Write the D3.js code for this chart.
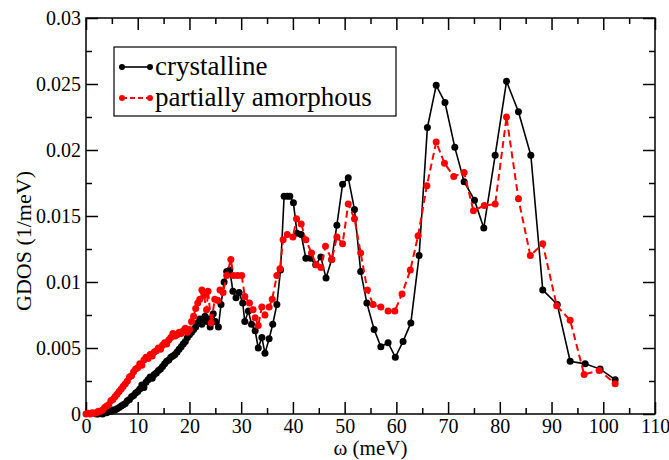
<!DOCTYPE html>
<html>
<head>
<meta charset="utf-8">
<script src="https://cdn.jsdelivr.net/npm/d3@7"></script>
<style>
  body { margin: 0; background: #fff; }
  svg { display: block; }
  svg text { font-family: "Liberation Serif", Tinos, "Times New Roman", Times, "DejaVu Serif", serif !important; fill: #000; }
</style>
</head>
<body>
<svg id="chart" width="669" height="460"></svg>
<script>
// ---- data ----
const seriesNames = ["crystalline", "partially amorphous"];
const xTickValues = [0, 10, 20, 30, 40, 50, 60, 70, 80, 90, 100, 110];
const xTickLabels = ["0", "10", "20", "30", "40", "50", "60", "70", "80", "90", "100", "110"];
const yTickValues = [0, 0.005, 0.01, 0.015, 0.02, 0.025, 0.03];
const yTickLabels = ["0", "0.005", "0.01", "0.015", "0.02", "0.025", "0.03"];
const xTitle = "ω (meV)";
const yTitle = "GDOS (1/meV)";

const crystallineOmega = [2.0,2.4,2.8,3.2,3.6,4.0,4.4,4.8,5.2,5.6,6.0,6.4,6.8,7.2,7.6,8.0,8.4,8.8,9.2,9.6,10.0,10.4,10.8,11.2,11.6,12.0,12.4,12.8,13.2,13.6,14.0,14.4,14.8,15.2,15.6,16.0,16.4,16.8,17.2,17.6,18.0,18.4,18.8,19.2,19.6,20.0,20.4,20.8,21.2,21.6,22.0,22.4,23.0,23.4,23.7,24.0,24.6,25.0,25.6,26.1,26.7,27.2,27.8,28.4,29.0,29.6,30.3,30.7,31.4,32.0,32.7,33.3,34.0,34.6,35.4,36.1,36.9,37.6,38.3,38.9,39.4,40.1,40.8,41.6,42.5,43.4,44.4,45.4,46.4,47.5,48.5,49.6,50.7,51.9,53.1,54.3,55.7,57.0,58.4,59.8,61.3,62.8,64.4,66.0,67.7,69.4,71.3,73.1,75.1,76.9,79.1,81.3,83.6,86.0,88.3,91.1,93.6,96.5,99.4,102.3];
const crystallineGdos = [0,0,0.00005,0,0.0001,0.0001,0.0002,0.0002,0.0003,0.0003,0.0004,0.0005,0.0006,0.0007,0.0008,0.0010,0.0011,0.0013,0.0014,0.0016,0.0017,0.0019,0.0022,0.0020,0.0024,0.0026,0.0028,0.0027,0.0030,0.0031,0.0033,0.0034,0.0036,0.0038,0.0040,0.0041,0.0043,0.0044,0.0045,0.0047,0.0049,0.0051,0.0053,0.0055,0.0058,0.0060,0.0062,0.0064,0.0066,0.0069,0.0072,0.0068,0.0074,0.0070,0.0072,0.0066,0.0076,0.0070,0.0066,0.0083,0.0100,0.0108,0.0109,0.0093,0.0088,0.0092,0.0084,0.0070,0.0078,0.0068,0.0063,0.0050,0.0058,0.0046,0.0057,0.0068,0.0083,0.0109,0.0165,0.0165,0.0165,0.0160,0.0137,0.0136,0.0118,0.0118,0.0113,0.0119,0.0103,0.0117,0.0143,0.0174,0.0179,0.0155,0.0108,0.0084,0.0064,0.0051,0.0054,0.0043,0.0055,0.0069,0.0120,0.0217,0.0249,0.0236,0.0202,0.0176,0.0162,0.0141,0.0196,0.0252,0.0229,0.0196,0.0094,0.0083,0.0040,0.0038,0.0034,0.0026];

const amorphousOmega = [0.0,0.4,0.8,1.2,1.6,2.0,2.4,2.8,3.2,3.6,4.0,4.4,4.8,5.2,5.6,6.0,6.4,6.8,7.2,7.6,8.0,8.4,8.8,9.2,9.6,10.0,10.4,10.8,11.2,11.6,12.0,12.4,12.8,13.2,13.6,14.0,14.4,14.8,15.2,15.6,16.0,16.4,16.8,17.2,17.6,18.0,18.4,18.8,19.2,19.6,20.0,20.4,20.8,21.2,21.6,22.0,22.4,22.8,23.3,23.6,24.2,24.9,25.5,25.9,26.5,27.2,28.0,28.5,29.3,30.1,30.7,31.6,32.3,32.7,33.3,34.0,34.6,35.4,36.0,36.9,37.5,38.1,38.9,40.0,40.7,41.6,42.5,43.6,44.5,45.4,46.3,47.5,48.5,49.6,50.7,51.9,53.1,54.4,55.5,57.0,58.4,59.7,61.1,62.7,64.2,65.9,67.7,69.3,71.1,73.1,74.9,77.0,79.1,81.3,83.6,85.9,88.3,91.0,93.6,96.3,99.2,102.3];
const amorphousGdos = [0,0.00005,0,0.0001,0.00005,0.0001,0.0002,0.0002,0.0003,0.0005,0.0006,0.0007,0.0010,0.0011,0.0013,0.0015,0.0017,0.0019,0.0021,0.0023,0.0025,0.0028,0.0029,0.0032,0.0034,0.0035,0.0038,0.0037,0.0041,0.0043,0.0042,0.0045,0.0044,0.0047,0.0048,0.0050,0.0049,0.0052,0.0054,0.0053,0.0056,0.0058,0.0061,0.0059,0.0060,0.0062,0.0061,0.0063,0.0065,0.0062,0.0064,0.0070,0.0074,0.0080,0.0084,0.0087,0.0094,0.0090,0.0079,0.0093,0.0069,0.0087,0.0086,0.0094,0.0092,0.0105,0.0117,0.0105,0.0105,0.0105,0.0089,0.0084,0.0079,0.0073,0.0067,0.0081,0.0075,0.0081,0.0087,0.0105,0.0110,0.0132,0.0136,0.0134,0.0148,0.0144,0.0132,0.0122,0.0113,0.0111,0.0127,0.0117,0.0134,0.0129,0.0159,0.0148,0.0122,0.0094,0.0083,0.0081,0.0078,0.0078,0.0091,0.0109,0.0135,0.0173,0.0206,0.0190,0.0180,0.0183,0.0154,0.0158,0.0159,0.0225,0.0163,0.0120,0.0129,0.0082,0.0071,0.0030,0.0033,0.0023];

// ---- layout ----
const FONT = '"Liberation Serif", Tinos, "Times New Roman", Times, "DejaVu Serif", serif';
const svg = d3.select("#chart");
const L = 86, R = 655, T = 18, B = 414;
const x = d3.scaleLinear().domain([0, 110]).range([L, R]);
const y = d3.scaleLinear().domain([0, 0.03]).range([B, T]);

const xMinor = d3.range(5, 110, 10);
const yMinor = [0.0025, 0.0075, 0.0125, 0.0175, 0.0225, 0.0275];

const fmtX = d => xTickLabels[xTickValues.indexOf(d)];
const fmtY = d => yTickLabels[yTickValues.indexOf(d)];

function styleAxis(g) {
  g.attr("font-family", FONT).attr("font-size", 20);
  g.select(".domain").remove();
  g.selectAll(".tick line").attr("stroke", "#000").attr("stroke-width", 1.5);
  g.selectAll("text").attr("font-family", FONT).attr("font-size", 20).attr("fill", "#000");
}

// bottom
svg.append("g").attr("transform", `translate(0,${B})`)
  .call(d3.axisBottom(x).tickValues(xTickValues).tickSize(-12).tickPadding(5).tickFormat(fmtX)).call(styleAxis);
svg.append("g").attr("transform", `translate(0,${B})`)
  .call(d3.axisBottom(x).tickValues(xMinor).tickSize(-6).tickFormat("")).call(styleAxis);
// top
svg.append("g").attr("transform", `translate(0,${T})`)
  .call(d3.axisTop(x).tickValues(xTickValues).tickSize(-12).tickFormat("")).call(styleAxis);
svg.append("g").attr("transform", `translate(0,${T})`)
  .call(d3.axisTop(x).tickValues(xMinor).tickSize(-6).tickFormat("")).call(styleAxis);
// left
svg.append("g").attr("transform", `translate(${L},0)`)
  .call(d3.axisLeft(y).tickValues(yTickValues).tickSize(-12).tickPadding(5).tickFormat(fmtY)).call(styleAxis);
svg.append("g").attr("transform", `translate(${L},0)`)
  .call(d3.axisLeft(y).tickValues(yMinor).tickSize(-6).tickFormat("")).call(styleAxis);
// right
svg.append("g").attr("transform", `translate(${R},0)`)
  .call(d3.axisRight(y).tickValues(yTickValues).tickSize(-12).tickFormat("")).call(styleAxis);
svg.append("g").attr("transform", `translate(${R},0)`)
  .call(d3.axisRight(y).tickValues(yMinor).tickSize(-6).tickFormat("")).call(styleAxis);

// frame
svg.append("rect").attr("x", L).attr("y", T).attr("width", R - L).attr("height", B - T)
  .attr("fill", "none").attr("stroke", "#000").attr("stroke-width", 1.5);

// series
const crystalline = crystallineOmega.map((w, i) => [w, crystallineGdos[i]]);
const amorphous = amorphousOmega.map((w, i) => [w, amorphousGdos[i]]);
const line = d3.line().x(d => x(d[0])).y(d => y(d[1]));

const series = [
  { data: crystalline, color: "#000000", dash: null, width: 1.6 },
  { data: amorphous, color: "#ff0000", dash: "7,4", width: 2 }
];
series.forEach(s => {
  const g = svg.append("g");
  g.append("path").datum(s.data).attr("d", line).attr("fill", "none")
    .attr("stroke", s.color).attr("stroke-width", s.width)
    .attr("stroke-dasharray", s.dash);
  g.selectAll("circle").data(s.data).join("circle")
    .attr("cx", d => x(d[0])).attr("cy", d => y(d[1])).attr("r", 3.5)
    .attr("fill", s.color);
});

// axis titles
svg.append("text").attr("x", (L + R) / 2).attr("y", 455).attr("text-anchor", "middle")
  .attr("font-family", FONT).attr("font-size", 21).text(xTitle);
svg.append("text").attr("transform", "translate(31,241) rotate(-90)").attr("text-anchor", "middle")
  .attr("font-family", FONT).attr("font-size", 22).text(yTitle);

// legend
const lg = svg.append("g");
lg.append("rect").attr("x", 114).attr("y", 47).attr("width", 282).attr("height", 69)
  .attr("fill", "#fff").attr("stroke", "#000").attr("stroke-width", 1.2);
series.forEach((s, i) => {
  const ly = 67 + i * 31;
  lg.append("line").attr("x1", 122).attr("x2", 150).attr("y1", ly).attr("y2", ly)
    .attr("stroke", s.color).attr("stroke-width", s.width).attr("stroke-dasharray", s.dash ? "5,3" : null);
  [122, 150].forEach(cx => lg.append("circle").attr("cx", cx).attr("cy", ly).attr("r", 3).attr("fill", s.color));
  lg.append("text").attr("x", 155).attr("y", ly + 8).attr("font-family", FONT).attr("font-size", 27).text(seriesNames[i]);
});
</script>
</body>
</html>
